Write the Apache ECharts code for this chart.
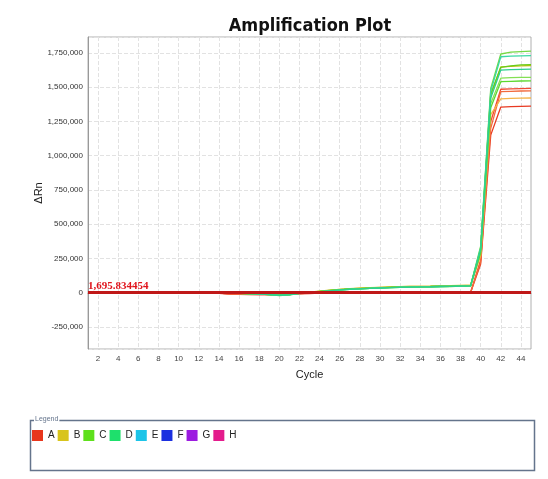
<!DOCTYPE html>
<html>
<head>
<meta charset="utf-8">
<script src="https://cdn.jsdelivr.net/npm/echarts@6/dist/echarts.min.js"></script>
<style>
  html, body { margin: 0; padding: 0; background: #fff; }
  #main { width: 548px; height: 479px; }
</style>
</head>
<body>
<div id="main"></div>
<script>
// cycle numbers on the x axis
const cycles = [1, 2, 3, 4, 5, 6, 7, 8, 9, 10, 11, 12, 13, 14, 15, 16, 17, 18, 19, 20,
  21, 22, 23, 24, 25, 26, 27, 28, 29, 30, 31, 32, 33, 34, 35, 36, 37, 38, 39, 40,
  41, 42, 43, 44, 45];

const wellNames = ['A', 'B', 'C', 'D', 'E', 'F', 'G', 'H'];
const wellColors = ['#e8361c', '#d8c41c', '#5ee01c', '#1ee06c', '#1cc4e8', '#1c30e0', '#9c1ce0', '#e41c8c'];

const thresholdValue = 1695.834454;

// ΔRn per cycle
const a1 = [0, 0, 0, 0, 0, 0, 0, 0, 0, 0, 0, 0, 0, -4000, -9000, -12000, -13000, -14000, -14000, -13000,
  -11000, -8000, -5000, -3000, -1000, 0, 0, 1000, 1000, 1000, 1000, 2000, 2000, 2000, 2000, 2000, 2000, 2000, 2000, 210000,
  1150000, 1355000, 1358000, 1360000, 1362000];
const a2 = [0, 0, 0, 0, 0, 0, 0, 0, 0, 0, 0, 0, 0, -3000, -8000, -11000, -12000, -13000, -13000, -12000,
  -10000, -6000, -3000, -1000, 0, 0, 1000, 1000, 1000, 2000, 2000, 2000, 2000, 2000, 3000, 3000, 3000, 3000, 3000, 240000,
  1250000, 1485000, 1488000, 1490000, 1491000];
const a3 = [0, 0, 0, 0, 0, 0, 0, 0, 0, 0, 0, 0, 0, -3000, -7000, -10000, -11000, -12000, -12000, -11000,
  -9000, -6000, -3000, -1000, 0, 0, 0, 1000, 1000, 1000, 1000, 1000, 2000, 2000, 2000, 2000, 2000, 2000, 2000, 225000,
  1200000, 1468000, 1470000, 1472000, 1473000];
const b1 = [0, 0, 0, 0, 0, 0, 0, 0, 0, 0, 0, 0, 0, -1000, -2000, -4000, -6000, -9000, -14000, -19000,
  -14000, -4000, 4000, 11000, 18000, 24000, 29000, 33000, 36000, 39000, 42000, 44000, 46000, 47000, 48000, 50000, 51000, 53000, 55000, 270000,
  1300000, 1415000, 1418000, 1420000, 1421000];
const b2 = [0, 0, 0, 0, 0, 0, 0, 0, 0, 0, 0, 0, 0, -1000, -2000, -4000, -6000, -8000, -13000, -18000,
  -13000, -3000, 5000, 12000, 19000, 25000, 30000, 34000, 37000, 40000, 43000, 45000, 46000, 47000, 48000, 50000, 52000, 54000, 56000, 310000,
  1440000, 1648000, 1652000, 1656000, 1658000];
const c1 = [0, 0, 0, 0, 0, 0, 0, 0, 0, 0, 0, 0, 0, -1000, -2000, -4000, -6000, -8000, -13000, -18000,
  -13000, -3000, 5000, 10000, 17000, 23000, 28000, 31000, 34000, 37000, 40000, 43000, 44000, 45000, 46000, 48000, 49000, 51000, 52000, 340000,
  1490000, 1742000, 1755000, 1760000, 1763000];
const c2 = [0, 0, 0, 0, 0, 0, 0, 0, 0, 0, 0, 0, 0, -1000, -2000, -4000, -6000, -9000, -14000, -20000,
  -15000, -4000, 3000, 9000, 16000, 22000, 27000, 30000, 33000, 36000, 39000, 41000, 43000, 44000, 45000, 47000, 48000, 50000, 51000, 320000,
  1450000, 1645000, 1655000, 1662000, 1665000];
const c3 = [0, 0, 0, 0, 0, 0, 0, 0, 0, 0, 0, 0, 0, -1000, -2000, -3000, -5000, -7000, -12000, -17000,
  -12000, -3000, 4000, 10000, 16000, 22000, 27000, 30000, 33000, 36000, 38000, 40000, 42000, 43000, 44000, 46000, 47000, 49000, 50000, 300000,
  1380000, 1566000, 1569000, 1571000, 1572000];
const c4 = [0, 0, 0, 0, 0, 0, 0, 0, 0, 0, 0, 0, 0, -1000, -2000, -3000, -5000, -8000, -12000, -17000,
  -13000, -4000, 3000, 9000, 15000, 21000, 26000, 29000, 32000, 35000, 37000, 39000, 41000, 42000, 43000, 45000, 46000, 48000, 49000, 290000,
  1350000, 1540000, 1543000, 1545000, 1546000];
const d1 = [0, 0, 0, 0, 0, 0, 0, 0, 0, 0, 0, 0, 0, -1000, -2000, -4000, -6000, -9000, -14000, -19000,
  -15000, -5000, 2000, 6000, 13000, 20000, 25000, 29000, 32000, 35000, 38000, 41000, 42000, 43000, 44000, 46000, 47000, 49000, 50000, 330000,
  1470000, 1722000, 1726000, 1728000, 1730000];
const d2 = [0, 0, 0, 0, 0, 0, 0, 0, 0, 0, 0, 0, 0, -1000, -2000, -4000, -6000, -8000, -13000, -18000,
  -14000, -4000, 3000, 8000, 14000, 21000, 26000, 29000, 32000, 35000, 38000, 40000, 42000, 43000, 44000, 46000, 47000, 49000, 50000, 315000,
  1420000, 1625000, 1628000, 1630000, 1631000];

// which well each curve belongs to, and its shade
const curves = [
  { well: 'A', color: '#e83a22', values: a1 },
  { well: 'A', color: '#f04a34', values: a2 },
  { well: 'A', color: '#f26a3c', values: a3 },
  { well: 'B', color: '#f4b448', values: b1 },
  { well: 'B', color: '#c4c012', values: b2 },
  { well: 'C', color: '#74d844', values: c1 },
  { well: 'C', color: '#68cc1c', values: c2 },
  { well: 'C', color: '#84e054', values: c3 },
  { well: 'C', color: '#5cd830', values: c4 },
  { well: 'D', color: '#3cd8a4', values: d1 },
  { well: 'D', color: '#2cd08c', values: d2 }
];

const narrow = "'Liberation Sans Narrow', 'Liberation Sans', Arial, sans-serif";

const chart = echarts.init(document.getElementById('main'));

const seriesList = [];
// legend entries first so each gets its own colour
wellNames.forEach(function (name, i) {
  seriesList.push({
    name: name,
    type: 'line',
    data: [],
    symbol: 'none',
    itemStyle: { color: wellColors[i] },
    lineStyle: { color: wellColors[i] }
  });
});
curves.forEach(function (c) {
  seriesList.push({
    name: c.well,
    type: 'line',
    data: c.values,
    symbol: 'none',
    itemStyle: { color: wellColors[wellNames.indexOf(c.well)] },
    lineStyle: { color: c.color, width: 1.3 },
    z: 3
  });
});
// threshold line
seriesList.push({
  name: 'Threshold',
  type: 'line',
  data: [],
  markLine: {
    silent: true,
    symbol: 'none',
    lineStyle: { color: '#c01818', width: 3, type: 'solid' },
    label: {
      show: true,
      position: 'insideStartTop',
      distance: [0, 1],
      formatter: '1,695.834454',
      color: '#e0141c',
      fontFamily: "'Liberation Serif', 'Times New Roman', serif",
      fontSize: 11,
      fontWeight: 'bold'
    },
    data: [{ yAxis: thresholdValue }]
  },
  z: 5
});

const option = {
  backgroundColor: '#ffffff',
  animation: false,
  title: {
    text: 'Amplification Plot',
    left: 305,
    textAlign: 'center',
    top: 12,
    textStyle: {
      fontFamily: "'DejaVu Sans Condensed', 'DejaVu Sans', sans-serif",
      fontWeight: 'bold',
      fontSize: 18,
      color: '#111'
    }
  },
  grid: {
    left: 88,
    right: 17,
    top: 37,
    bottom: 130,
    show: true,
    borderColor: '#b0b0b0',
    borderWidth: 1
  },
  xAxis: {
    type: 'category',
    data: cycles,
    boundaryGap: false,
    name: 'Cycle',
    nameLocation: 'middle',
    nameGap: 20,
    nameTextStyle: { fontFamily: narrow, fontSize: 11, color: '#222' },
    axisLine: { lineStyle: { color: '#999' } },
    axisTick: { show: false },
    axisLabel: {
      interval: function (idx, val) { return Number(val) % 2 === 0; },
      fontFamily: narrow,
      fontSize: 8,
      color: '#444',
      margin: 6
    },
    splitLine: {
      show: true,
      interval: function (idx, val) { return Number(val) % 2 === 0; },
      lineStyle: { color: '#e2e2e2', type: 'dashed' }
    }
  },
  yAxis: {
    type: 'value',
    min: -410000,
    max: 1866000,
    minInterval: 250000,
    maxInterval: 250000,
    name: 'ΔRn',
    nameLocation: 'middle',
    nameGap: 44,
    nameMoveOverlap: false,
    nameTextStyle: { fontFamily: narrow, fontSize: 11, color: '#222' },
    axisLine: { show: true, lineStyle: { color: '#999' } },
    axisTick: { show: false },
    axisLabel: {
      showMinLabel: false,
      showMaxLabel: false,
      fontFamily: narrow,
      fontSize: 8,
      color: '#333',
      margin: 5,
      formatter: function (v) { return v.toLocaleString('en-US'); }
    },
    splitLine: { lineStyle: { color: '#e2e2e2', type: 'dashed' } }
  },
  legend: {
    data: wellNames,
    left: 27,
    top: 425,
    icon: 'rect',
    itemWidth: 11,
    itemHeight: 11,
    itemGap: 3,
    textStyle: { fontFamily: narrow, fontSize: 10, color: '#222' },
    selectedMode: false
  },
  graphic: [
    {
      type: 'rect',
      left: 28,
      top: 418,
      shape: { width: 504, height: 50 },
      style: { fill: 'none', stroke: '#64748c', lineWidth: 1.5 },
      z: 1
    },
    {
      type: 'text',
      left: 34,
      top: 416,
      style: {
        text: 'Legend',
        fontSize: 7,
        fontFamily: narrow,
        fill: '#64748c',
        backgroundColor: '#fff',
        padding: [0, 1]
      },
      z: 2
    }
  ],
  series: seriesList
};

chart.setOption(option);
</script>
</body>
</html>
